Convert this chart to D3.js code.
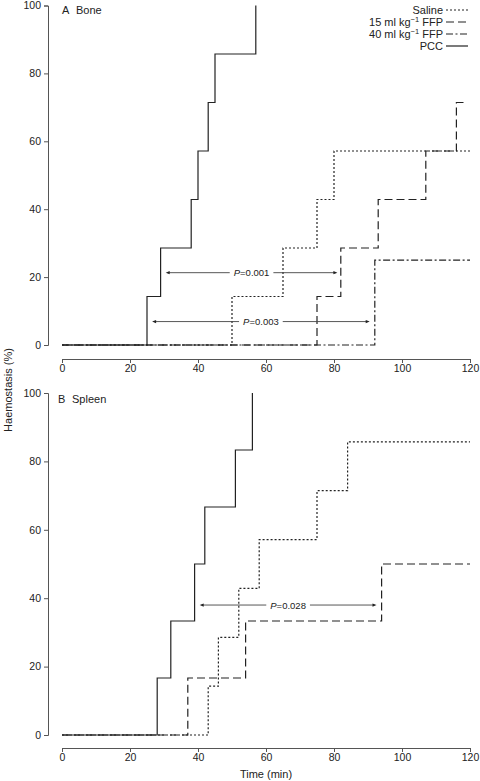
<!DOCTYPE html>
<html><head><meta charset="utf-8">
<script src="https://cdn.jsdelivr.net/npm/d3@7"></script>
<style>body{margin:0;background:#fff}svg{display:block}text{font-family:"Liberation Sans",Arial,sans-serif;fill:#222}</style>
</head><body>
<script>
// ---- data ----
const xTicks = [0, 20, 40, 60, 80, 100, 120];
const yTicks = [0, 20, 40, 60, 80, 100];
const seriesNames = ["Saline", "15 ml kg−1 FFP", "40 ml kg−1 FFP", "PCC"];

// Panel A: Bone
const boneSalineT = [0, 50, 65, 75, 80, 120];
const boneSalineV = [0, 14.29, 28.57, 42.86, 57.14, 57.14];
const boneFfp15T = [0, 75, 82, 93, 107, 116, 119];
const boneFfp15V = [0, 14.29, 28.57, 42.86, 57.14, 71.43, 71.43];
const boneFfp40T = [0, 92, 120];
const boneFfp40V = [0, 25, 25];
const bonePccT = [0, 25, 29, 38, 40, 43, 45, 57];
const bonePccV = [0, 14.29, 28.57, 42.86, 57.14, 71.43, 85.71, 100];
const boneArrowFrom = [30.5, 26.5];
const boneArrowTo = [81, 90.5];
const boneArrowY = [21.3, 6.9];
const boneArrowLabel = ["0.001", "0.003"];

// Panel B: Spleen
const spleenSalineT = [0, 43, 46, 52, 58, 75, 84, 120];
const spleenSalineV = [0, 14.29, 28.57, 42.86, 57.14, 71.43, 85.71, 85.71];
const spleenFfp15T = [0, 37, 54, 94, 120];
const spleenFfp15V = [0, 16.67, 33.33, 50, 50];
const spleenPccT = [0, 28, 32, 39, 42, 51, 56];
const spleenPccV = [0, 16.67, 33.33, 50, 66.67, 83.33, 100];
const spleenArrowFrom = [40.5];
const spleenArrowTo = [92.5];
const spleenArrowY = [38];
const spleenArrowLabel = ["0.028"];

// ---- styles ----
const dashes = {"Saline": "2,2", "15 ml kg−1 FFP": "8,4", "40 ml kg−1 FFP": "7,2.5,2,2.5", "PCC": null};
const ink = "#222", axisInk = "#555";

const W = 480, H = 781;
const svg = d3.select("body").append("svg").attr("width", W).attr("height", H);

const x = d3.scaleLinear().domain([0, 120]).range([62, 470]);

function panel(opts) {
  const y = d3.scaleLinear().domain([0, 100]).range([opts.y0, opts.y100]);
  const g = svg.append("g");
  const ya = g.append("g").attr("transform", "translate(48,0)")
    .call(d3.axisLeft(y).tickValues(yTicks).tickSize(4).tickPadding(3).tickFormat(d3.format("d")));
  const xa = g.append("g").attr("transform", `translate(0,${opts.xAxisY})`)
    .call(d3.axisBottom(x).tickValues(xTicks).tickSize(4).tickPadding(2).tickFormat(d3.format("d")));
  [ya, xa].forEach(a => {
    a.select(".domain").attr("stroke", axisInk).attr("stroke-width", 1);
    a.selectAll(".tick line").attr("stroke", axisInk);
    a.selectAll("text").attr("font-size", 10.5).attr("fill", ink).style("font-family", '"Liberation Sans",Arial,sans-serif');
  });
  g.append("text").attr("x", opts.titleX).attr("y", opts.titleY).attr("font-size", 11).text(opts.letter);
  g.append("text").attr("x", opts.titleX + 14).attr("y", opts.titleY).attr("font-size", 11).text(opts.name);

  const line = d3.line().x(d => x(d[0])).y(d => y(d[1])).curve(d3.curveStepAfter);
  opts.series.forEach(s => {
    const pts = s.t.map((t, i) => [t, s.v[i]]);
    g.append("path").attr("d", line(pts)).attr("fill", "none")
      .attr("stroke", ink).attr("stroke-width", 1.2)
      .attr("stroke-dasharray", dashes[s.name]);
  });

  opts.arrows.forEach(a => {
    const yy = y(a.y), x1 = x(a.from), x2 = x(a.to);
    const ag = g.append("g");
    ag.append("line").attr("x1", x1 + 2).attr("x2", x2 - 2).attr("y1", yy).attr("y2", yy)
      .attr("stroke", "#444").attr("stroke-width", 0.9);
    [[x1, 1], [x2, -1]].forEach(([px, dir]) => {
      ag.append("path").attr("d", `M${px},${yy}L${px + dir * 4},${yy - 1.6}L${px + dir * 4},${yy + 1.6}Z`).attr("fill", "#222");
    });
    const rect = ag.append("rect").attr("fill", "#fff");
    const mid = (x1 + x2) / 2;
    const t = ag.append("text").attr("x", mid).attr("y", yy + 3.5).attr("text-anchor", "middle").attr("font-size", 9.5);
    t.append("tspan").attr("font-style", "italic").text("P");
    t.append("tspan").text("=" + a.label);
    const bb = t.node().getBBox();
    rect.attr("x", bb.x - 4).attr("y", yy - 2).attr("width", bb.width + 8).attr("height", 4);
  });
}

function zip(t, v, name) { return {t, v, name}; }

panel({
  y0: 345, y100: 5.5, xAxisY: 359, letter: "A", name: "Bone", titleX: 62, titleY: 14,
  series: [
    zip(boneFfp40T, boneFfp40V, seriesNames[2]),
    zip(boneFfp15T, boneFfp15V, seriesNames[1]),
    zip(boneSalineT, boneSalineV, seriesNames[0]),
    zip(bonePccT, bonePccV, seriesNames[3])
  ],
  arrows: boneArrowFrom.map((f, i) => ({from: f, to: boneArrowTo[i], y: boneArrowY[i], label: boneArrowLabel[i]}))
});

panel({
  y0: 735, y100: 393, xAxisY: 748, letter: "B", name: "Spleen", titleX: 58, titleY: 403,
  series: [
    zip(spleenFfp15T, spleenFfp15V, seriesNames[1]),
    zip(spleenSalineT, spleenSalineV, seriesNames[0]),
    zip(spleenPccT, spleenPccV, seriesNames[3])
  ],
  arrows: spleenArrowFrom.map((f, i) => ({from: f, to: spleenArrowTo[i], y: spleenArrowY[i], label: spleenArrowLabel[i]}))
});

svg.append("text").attr("x", x(60)).attr("y", 778).attr("text-anchor", "middle").attr("font-size", 11).text("Time (min)");
svg.append("text").attr("transform", "translate(12,390) rotate(-90)").attr("text-anchor", "middle").attr("font-size", 11).text("Haemostasis (%)");

const leg = svg.append("g");
seriesNames.forEach((n, i) => {
  const yy = 14 + i * 12;
  const t = leg.append("text").attr("x", 443).attr("y", yy).attr("text-anchor", "end").attr("font-size", 11);
  const m = n.match(/^(.*kg)(−1)( FFP)$/);
  if (m) {
    t.append("tspan").text(m[1]);
    t.append("tspan").attr("dy", -4).attr("font-size", 7.5).text(m[2]);
    t.append("tspan").attr("dy", 4).text(m[3]);
  } else t.text(n);
  leg.append("line").attr("x1", 446).attr("x2", 468).attr("y1", yy - 4).attr("y2", yy - 4)
    .attr("stroke", ink).attr("stroke-width", 1.2).attr("stroke-dasharray", dashes[n]);
});
</script>
</body></html>
